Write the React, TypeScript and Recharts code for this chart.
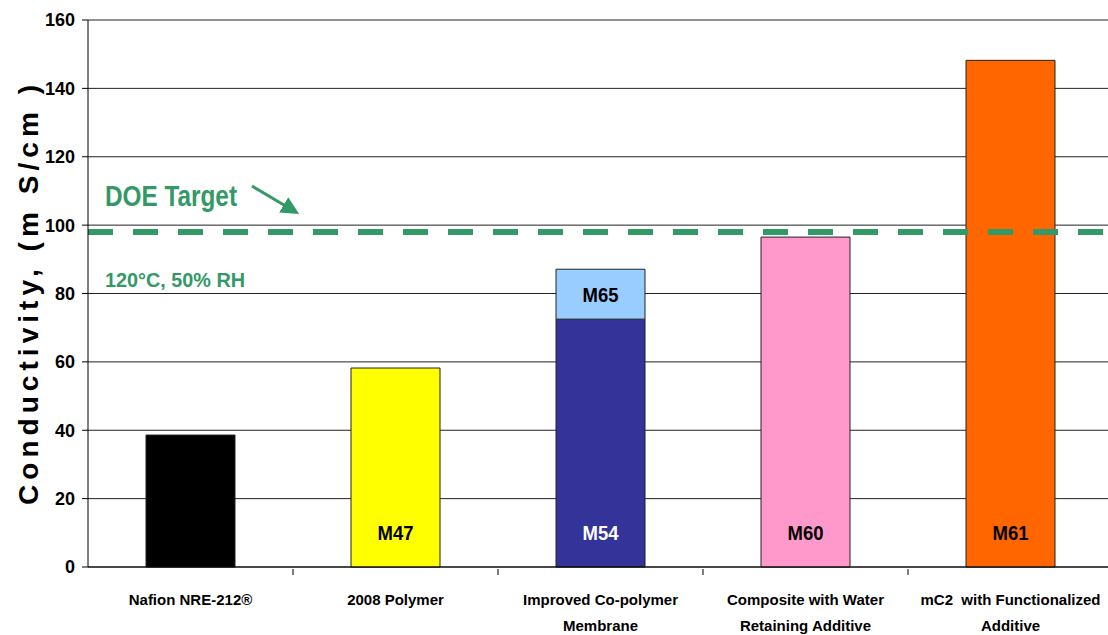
import React from 'react';
import { BarChart, Bar, XAxis, YAxis, CartesianGrid, ReferenceLine, LabelList, Cell, Customized } from 'recharts';

// chart values
const categories = [
  ['Nafion NRE-212®'],
  ['2008 Polymer'],
  ['Improved Co-polymer', 'Membrane'],
  ['Composite with Water', 'Retaining Additive'],
  ['mC2  with Functionalized', 'Additive'],
];
const baseValues = [38.6, 58.2, 72.5, 96.5, 148.2];
const topValues = [0, 0, 14.6, 0, 0];
const baseLabels = ['', 'M47', 'M54', 'M60', 'M61'];
const topLabels = ['', '', 'M65', '', ''];
const baseColors = ['#000000', '#FFFF00', '#333399', '#FF99CC', '#FF6600'];
const topColor = '#99CCFF';
const yTicks = [0, 20, 40, 60, 80, 100, 120, 140, 160];
const doeTarget = 98;

const chartData = categories.map((c, i) => ({
  name: c.join('\n'),
  base: baseValues[i],
  top: topValues[i],
  baseLabel: baseLabels[i],
  topLabel: topLabels[i],
}));

const W = 1113;
const H = 635;
const LEFT = 88;
const BAND = (W - LEFT) / categories.length;
const FONT = '"Liberation Sans", Arial, sans-serif';
const GREEN = '#339966';

function XTick(props: any) {
  const { x, y, payload, index } = props;
  const lines = String(payload.value).split('\n');
  return (
    <g>
      {index > 0 && (
        <line x1={x - BAND / 2} x2={x - BAND / 2} y1={y} y2={y + 6} stroke="#000" strokeWidth={1} />
      )}
      {lines.map((l: string, i: number) => (
        <text key={i} x={x} y={y + 36 + i * 26} textAnchor="middle" fontFamily={FONT} fontWeight="bold" fontSize={15}
          fill="#000" style={{ whiteSpace: 'pre' }}>
          {l}
        </text>
      ))}
    </g>
  );
}

function BottomLabel(props: any) {
  const { x, y, width, height, value, index } = props;
  if (!value) return null;
  return (
    <text x={x + width / 2} y={y + height - 27} textAnchor="middle" fontFamily={FONT} fontWeight="bold" fontSize={21}
      textLength={36} lengthAdjust="spacingAndGlyphs" fill={index === 2 ? '#FFFFFF' : '#000000'}>
      {value}
    </text>
  );
}

function MiddleLabel(props: any) {
  const { x, y, width, height, value } = props;
  if (!value) return null;
  return (
    <text x={x + width / 2} y={y + height / 2 + 8} textAnchor="middle" fontFamily={FONT} fontWeight="bold" fontSize={21}
      textLength={36} lengthAdjust="spacingAndGlyphs" fill="#000">
      {value}
    </text>
  );
}

function YLabel() {
  return (
    <text transform="translate(38,295) rotate(-90)" textAnchor="middle" fontFamily={FONT} fontWeight="bold" fontSize={28}
      fill="#000" textLength={420} lengthAdjust="spacing" style={{ whiteSpace: 'pre' }}>
      Conductivity, (m S/cm )
    </text>
  );
}

function Notes() {
  return (
    <g>
      <defs>
        <marker id="arr" markerWidth="6" markerHeight="6" refX="4" refY="3" orient="auto">
          <path d="M0,0 L6,3 L0,6 z" fill={GREEN} />
        </marker>
      </defs>
      <text x={105} y={206} fontFamily={FONT} fontWeight="bold" fontSize={29} textLength={132} lengthAdjust="spacingAndGlyphs" fill={GREEN}>
        DOE Target
      </text>
      <line x1={252} y1={186} x2={294} y2={211} stroke={GREEN} strokeWidth={3} markerEnd="url(#arr)" />
      <text x={105} y={287} fontFamily={FONT} fontWeight="bold" fontSize={21} textLength={140} lengthAdjust="spacingAndGlyphs" fill={GREEN}>
        120°C, 50% RH
      </text>
    </g>
  );
}

export default function App() {
  return (
    <div style={{ position: 'absolute', left: 0, top: 0, width: 1108, height: 635, overflow: 'hidden', background: '#fff' }}>
      <BarChart width={W} height={H} data={chartData} margin={{ top: 20, right: 0, left: 0, bottom: 0 }}>
        <CartesianGrid vertical={false} stroke="#222" strokeWidth={1} />
        <XAxis dataKey="name" height={68} interval={0} tickLine={false} tickSize={0} axisLine={{ stroke: '#000' }} tick={<XTick />} />
        <YAxis
          width={LEFT}
          domain={[0, 160]}
          ticks={yTicks}
          interval={0}
          tickSize={6}
          tickMargin={7}
          axisLine={{ stroke: '#000' }}
          tickLine={{ stroke: '#000' }}
          tick={{ fontFamily: FONT, fontWeight: 'bold', fontSize: 18, fill: '#000' }}
        />
        <Bar dataKey="base" stackId="a" barSize={89} stroke="#222" strokeWidth={1} isAnimationActive={false}>
          {chartData.map((d, i) => (
            <Cell key={i} fill={baseColors[i]} />
          ))}
          <LabelList dataKey="baseLabel" content={<BottomLabel />} />
        </Bar>
        <Bar dataKey="top" stackId="a" barSize={89} fill={topColor} stroke="#222" strokeWidth={1} isAnimationActive={false}>
          <LabelList dataKey="topLabel" content={<MiddleLabel />} />
        </Bar>
        <ReferenceLine y={doeTarget} stroke={GREEN} strokeWidth={6} strokeDasharray="25 20" />
        <Customized component={<YLabel />} />
        <Customized component={<Notes />} />
      </BarChart>
    </div>
  );
}
